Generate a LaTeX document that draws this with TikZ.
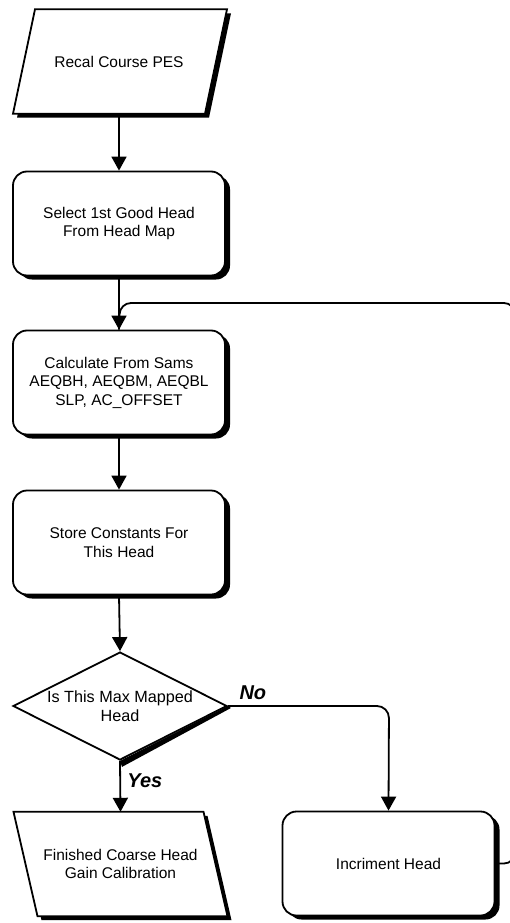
\documentclass[tikz,border=0pt]{standalone}
\usepackage{fontspec}
\setmainfont{Liberation Sans}
\usetikzlibrary{shapes.geometric,shadows,arrows.meta}
\pgfdeclarelayer{bg}
\pgfdeclarelayer{paper}
\pgfsetlayers{paper,bg,main}
\begin{document}
\begin{tikzpicture}[x=1pt,y=-1pt,
  txt/.style={align=center,font=\fontsize{15.5}{18.5}\selectfont},
  base/.style={txt,draw=black,line width=1.8pt,fill=white,
    drop shadow={opacity=1,fill=black,shadow xshift=5pt,shadow yshift=-4pt}},
  procbox/.style={base,rectangle,rounded corners=14pt,minimum width=212pt,minimum height=104pt,inner sep=0pt},
  iobox/.style={txt,rectangle,minimum width=214pt,minimum height=104pt,inner sep=0pt},
  ioshape/.style={draw=black,line width=1.8pt,fill=white},
  decbox/.style={txt,font=\fontsize{16.2}{18.5}\selectfont,draw=black,line width=1.8pt,fill=white,diamond,aspect=2,
    minimum width=214pt,minimum height=108pt,inner sep=0pt},
  flow/.style={line width=1.8pt,-{Triangle[width=15pt,length=14pt]}},
  lab/.style={font=\fontsize{20}{23}\selectfont\bfseries\itshape}
]
\useasboundingbox (0,0) rectangle (509,923);
\begin{pgfonlayer}{paper}
  \fill[white] (0,0) rectangle (509,923);
\end{pgfonlayer}

\node[iobox] (start) at (119,61.5) {Recal Course PES};
\begin{pgfonlayer}{bg}
  \fill[black] ([shift={(-84+4,4)}]start.north) -- ([shift={(108+4,4)}]start.north)
     -- ([shift={(86+4,4)}]start.south) -- ([shift={(-106+4,4)}]start.south) -- cycle;
  \draw[ioshape] ([xshift=-84pt]start.north) -- ([xshift=108pt]start.north)
     -- ([xshift=86pt]start.south) -- ([xshift=-106pt]start.south) -- cycle;
\end{pgfonlayer}

\node[procbox] (sel) at (119,223.5) {Select 1st Good Head\\From Head Map};
\node[procbox] (calc) at (119,382.5) {Calculate From Sams\\AEQBH, AEQBM, AEQBL\\SLP, AC\_OFFSET};
\node[procbox] (store) at (119,542.5) {Store Constants For\\This Head};
\node[decbox] (dec) at (120,706) {Is This Max Mapped\\Head};
\fill[black] (dec.east) -- (dec.south) -- ([shift={(2,6)}]dec.south) -- ([shift={(3,2)}]dec.east) -- cycle;

\node[iobox] (fin) at (120.5,864) {Finished Coarse Head\\Gain Calibration};
\begin{pgfonlayer}{bg}
  \fill[black] ([shift={(-107+4,4)}]fin.north) -- ([shift={(83+4,4)}]fin.north)
     -- ([shift={(107+4,4)}]fin.south) -- ([shift={(-83+4,4)}]fin.south) -- cycle;
  \draw[ioshape] ([xshift=-107pt]fin.north) -- ([xshift=83pt]fin.north)
     -- ([xshift=107pt]fin.south) -- ([xshift=-83pt]fin.south) -- cycle;
\end{pgfonlayer}

\node[procbox] (inc) at (388.5,863.5) {Incriment Head};

\coordinate (loopr) at (515,863.5);
\coordinate (loopt) at (515,303);
\coordinate (loopl) at (120,303);
\coordinate (nocorner) at (389,706);

\draw[flow] (start.south) -- (sel.north);
\draw[flow] (sel.south) -- (calc.north);
\draw[line width=1.8pt,rounded corners=11pt] (inc.east) -- (loopr) -- (loopt) -- (loopl) -- (calc.north);
\draw[flow] (calc.south) -- (store.north);
\draw[flow] (store.south) -- (dec.north);
\draw[flow] (dec.south) -- node[lab,right=3pt,pos=0.38] (yes) {Yes} (fin.north);
\draw[flow,rounded corners=12pt] (dec.east) -- (nocorner) -- (inc.north);
\node[lab,anchor=south west] (no) at (236,703) {No};
\end{tikzpicture}
\end{document}
